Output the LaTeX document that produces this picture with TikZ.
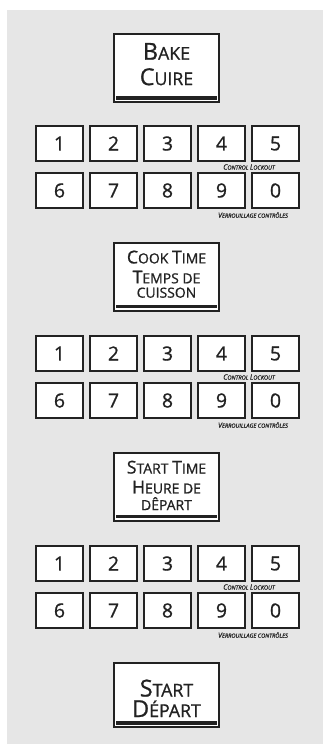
\documentclass[tikz,border=0pt]{standalone}
\usepackage{fontspec}
\setmainfont{Open Sans}[FakeBold=0.9]
\usepackage{xcolor}
\definecolor{ovPanel}{HTML}{E6E6E6}
\definecolor{ovInk}{HTML}{222222}
\usetikzlibrary{positioning}

% large initial letter of a fake small-caps word
\newcommand{\capBig}[1]{{\fontsize{23.5}{23.5}\selectfont #1}}
\newcommand{\capMid}[1]{{\fontsize{17.8}{17.8}\selectfont #1}}
\newcommand{\capTiny}[1]{{\fontsize{7.2}{7.2}\selectfont #1}}

\begin{document}
\begin{tikzpicture}[
      x=1bp, y=-1bp,
      every node/.style={text=ovInk},
      panel/.style={rectangle,draw=ovInk,fill=white,line width=2.4bp,
                    minimum width=104.6bp,inner sep=0pt},
      panelText/.style={align=center,inner sep=0pt,text=ovInk},
      key/.style={rectangle,draw=ovInk,fill=white,line width=2.4bp,
                  minimum width=46.6bp,minimum height=34.6bp,inner sep=0pt,
                  font=\fontsize{19.5}{19.5}\selectfont},
      bar/.style={ovInk,line width=3.8bp},
      lockout/.style={inner sep=0pt,
                      font=\fontsize{5.7}{6}\selectfont\itshape},
    ]

    % --- panel background ---
    \useasboundingbox (0,0) rectangle (323,744);
    \fill[ovPanel] (7,10) rectangle (323,744);

    % --- mode buttons ---
    \node[panel,minimum height=68.3bp,
          label={[panelText,yshift=3.8bp,
                  font=\fontsize{17.8}{25.5}\selectfont]center:%
            \capBig{B}AKE\\\capBig{C}UIRE}] (bake) at (166.5,68) {};
    \node[panel,minimum height=67.6bp,
          label={[panelText,yshift=2.8bp,
                  font=\fontsize{14}{20}\selectfont]center:%
            \capMid{C}OOK \capMid{T}IME\\\capMid{T}EMPS DE\\[-5.6bp]CUISSON}]
          (cooktime) at (166.5,277) {};
    \node[panel,minimum height=67.6bp,
          label={[panelText,yshift=1.6bp,
                  font=\fontsize{14}{20}\selectfont]center:%
            \capMid{S}TART \capMid{T}IME\\\capMid{H}EURE DE\\[-3.3bp]DÊPART}]
          (starttime) at (166.5,487) {};
    \node[panel,minimum height=64.3bp,
          label={[panelText,yshift=-3.3bp,
                  font=\fontsize{17.8}{20.6}\selectfont]center:%
            \capBig{S}TART\\\capBig{D}ÉPART}] (start) at (166.5,695) {};

    % --- underline bars ---
    \foreach \b in {bake,cooktime,starttime,start}
      \draw[bar] ([xshift=3bp,yshift=5.5bp]\b.south west)
              -- ([xshift=-3bp,yshift=5.5bp]\b.south east);

    % --- number pads ---
    \foreach \pad/\py in {a/0,b/210,c/420} {
      \foreach \d [count=\i from 0] in {1,2,3,4,5}
        \node[key] (\pad\d) at (59.5+54*\i,143.5+\py) {\d};
      \foreach \d [count=\i from 0] in {6,7,8,9,0}
        \node[key] (\pad\d) at (59.5+54*\i,190.5+\py) {\d};
      \node[lockout] (\pad lock) at (249,167+\py)
        {\capTiny{C}ONTROL \capTiny{L}OCKOUT};
      \node[lockout] (\pad verr) at (253,215+\py)
        {\capTiny{V}ERROUILLAGE CONTRÔLES};
    }

  \end{tikzpicture}
\end{document}
